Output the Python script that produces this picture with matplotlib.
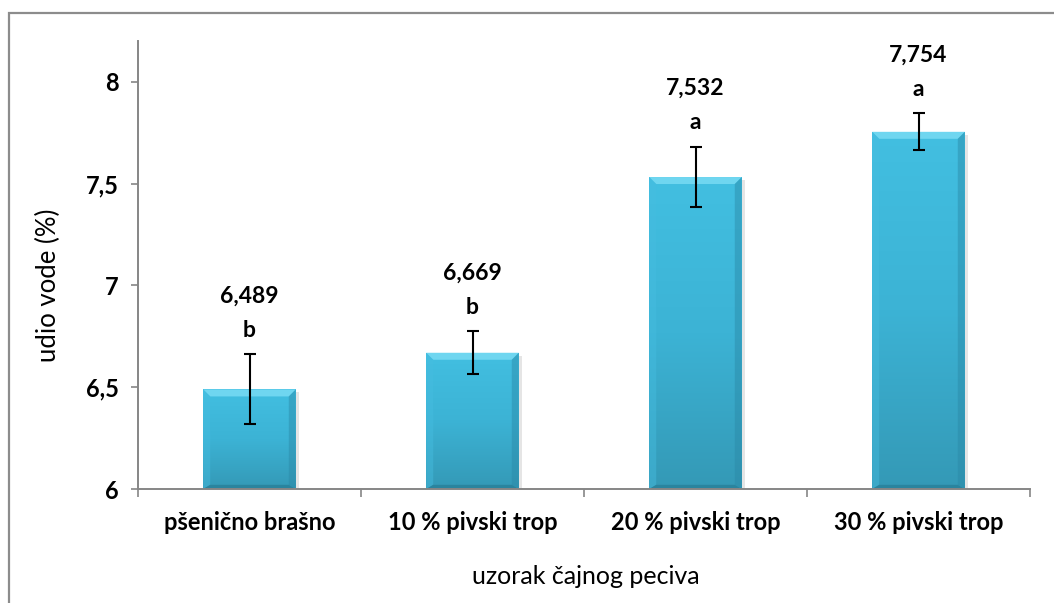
import numpy as np
import matplotlib.pyplot as plt
from matplotlib.colors import LinearSegmentedColormap
from matplotlib.patches import Polygon, Rectangle

# data
categories = ['pšenično brašno', '10 % pivski trop', '20 % pivski trop', '30 % pivski trop']
means = [6.489, 6.669, 7.532, 7.754]
errors = [0.172, 0.105, 0.148, 0.090]
value_labels = ['6,489', '6,669', '7,532', '7,754']
letters = ['b', 'b', 'a', 'a']
yticks = [6, 6.5, 7, 7.5, 8]
ytick_labels = ['6', '6,5', '7', '7,5', '8']

plt.rcParams['font.family'] = ['Lato', 'DejaVu Sans']

W, H = 1054, 603
fig = plt.figure(figsize=(W / 100, H / 100), dpi=100)
ax_l, ax_r, ax_b, ax_t = 138, 1030, 489, 41
ax = fig.add_axes([ax_l / W, 1 - ax_b / H, (ax_r - ax_l) / W, (ax_b - ax_t) / H])

# outer chart border (only top/left visible in the crop)
fig.add_artist(Rectangle((8.5 / W, -0.1), 1.2, 1 - 13.5 / H + 0.1, transform=fig.transFigure,
                         fill=False, edgecolor='#8c8c8c', linewidth=1.6))

x = np.arange(len(categories))
ax.set_xlim(-0.5, len(categories) - 0.5)
ax.set_ylim(6, 8.2)

bw = 0.415
bars = ax.bar(x, np.array(means) - 6, bottom=6, width=bw, color='#3bb4d6', edgecolor='none', zorder=2)

# pixel sizes in data units
px_x = (len(categories)) / (ax_r - ax_l)
px_y = 2.2 / (ax_b - ax_t)

cmap = LinearSegmentedColormap.from_list('bar', ['#42bfe1', '#3cb3d5', '#3499b6'])
grad = np.linspace(0, 1, 256).reshape(-1, 1)
for b in bars:
    x0, y0 = b.get_x(), b.get_y()
    w, h = b.get_width(), b.get_height()
    # soft shadow
    ax.add_patch(Rectangle((x0 + 3 * px_x, y0), w, h - 3 * px_y, facecolor='#d4d4d4',
                           edgecolor='none', alpha=0.6, zorder=1.5))
    im = ax.imshow(grad, extent=(x0, x0 + w, y0, y0 + h), origin='upper', aspect='auto',
                   cmap=cmap, zorder=2.1)
    im.set_clip_path(b)
    bx, by = 7 * px_x, 7 * px_y
    top = Polygon([(x0, y0 + h), (x0 + w, y0 + h), (x0 + w - bx, y0 + h - by), (x0 + bx, y0 + h - by)],
                  facecolor='#6fd6f0', edgecolor='none', zorder=2.2)
    left = Polygon([(x0, y0 + h), (x0 + bx, y0 + h - by), (x0 + bx, y0 + by * 0.6), (x0, y0)],
                   facecolor='#46bde0', edgecolor='none', alpha=0.45, zorder=2.2)
    right = Polygon([(x0 + w, y0 + h), (x0 + w - bx, y0 + h - by), (x0 + w - bx, y0 + by * 0.6), (x0 + w, y0)],
                    facecolor='#2a88a6', edgecolor='none', alpha=0.45, zorder=2.2)
    bottom = Polygon([(x0, y0), (x0 + bx, y0 + by * 0.6), (x0 + w - bx, y0 + by * 0.6), (x0 + w, y0)],
                     facecolor='#2a849e', edgecolor='none', zorder=2.2)
    for p in (top, left, right, bottom):
        ax.add_patch(p)

ax.errorbar(x, means, yerr=errors, fmt='none', ecolor='black', elinewidth=1.5,
            capsize=4.3, capthick=1.5, zorder=3)

for xi, m, e, v, l in zip(x, means, errors, value_labels, letters):
    ax.annotate(l, (xi, m + e), xytext=(0, 17.5), textcoords='offset points',
                ha='center', va='center', fontsize=16.5, fontweight='bold', annotation_clip=False)
    ax.annotate(v, (xi, m + e), xytext=(0, 42), textcoords='offset points',
                ha='center', va='center', fontsize=16.5, fontweight='bold', annotation_clip=False)

for s in ('top', 'right'):
    ax.spines[s].set_visible(False)
for s in ('left', 'bottom'):
    ax.spines[s].set_color('#868686')
    ax.spines[s].set_linewidth(1.4)

ax.set_yticks(yticks)
ax.set_yticklabels(ytick_labels, fontsize=17, fontweight='bold')
ax.tick_params(axis='y', length=5, width=1.2, color='#868686', pad=9)

ax.set_xticks(x)
ax.set_xticklabels(categories, fontsize=17, fontweight='bold')
ax.tick_params(axis='x', which='major', length=0, pad=16)
ax.set_xticks(np.arange(-0.5, len(categories)), minor=True)
ax.tick_params(axis='x', which='minor', length=6, width=1.2, color='#868686')

fig.text(48 / W, 1 - 285 / H, 'udio vode (%)', rotation=90, ha='center', va='center', fontsize=18.5)
fig.text(586 / W, 1 - 577 / H, 'uzorak čajnog peciva', ha='center', va='center', fontsize=18)

fig.savefig('out.png', dpi=100)
